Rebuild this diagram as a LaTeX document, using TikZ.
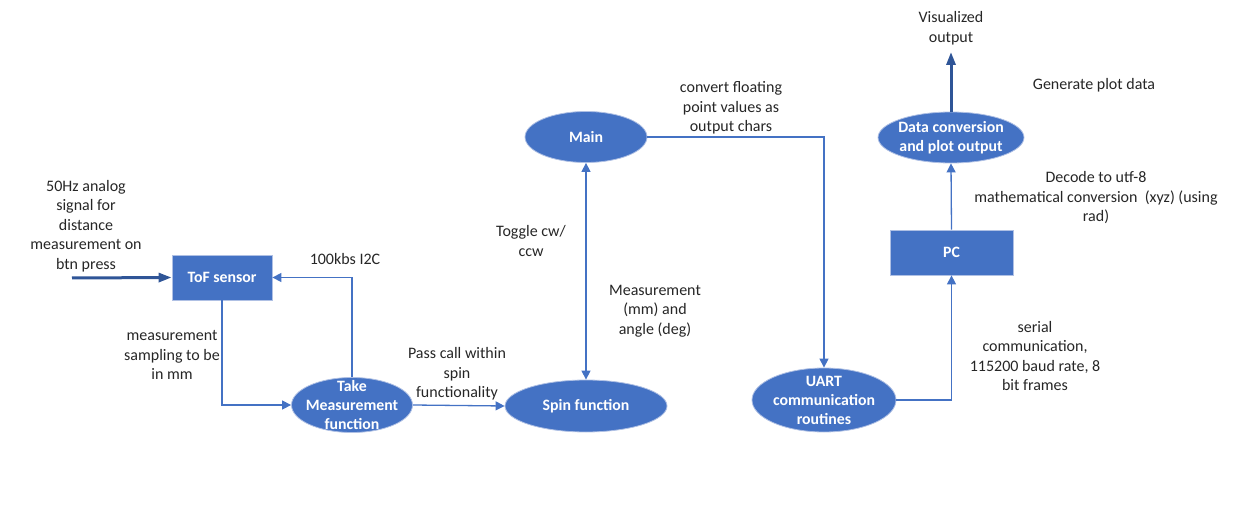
\documentclass[tikz,border=0pt]{standalone}
\usepackage{fontspec}
\setmainfont{Carlito}
\usetikzlibrary{arrows.meta,shapes.geometric}
\definecolor{boxblue}{HTML}{4472C4}
\definecolor{darkblue}{HTML}{2F5597}
\definecolor{rimblue}{HTML}{AFC0E4}

\begin{document}
\begin{tikzpicture}[x=1pt,y=-1pt,
  lbl/.style={align=center,font=\fontsize{16}{19.5}\selectfont,inner sep=0pt,text=black!85},
  intext/.style={align=center,font=\fontsize{15.8}{19}\selectfont\bfseries,text=white,inner sep=0pt},
  block/.style={rectangle,fill=boxblue,draw=rimblue,line width=.8pt,inner sep=0pt,intext},
  oval/.style={ellipse,fill=boxblue,draw=rimblue,line width=.8pt,inner sep=0pt},
  link/.style={boxblue,line width=1.3pt,-{Triangle[width=9pt,length=9pt]}},
  feed/.style={darkblue,line width=3pt,-{Triangle[width=9pt,length=13pt]}}]
\useasboundingbox (0,0) rectangle (1247,510);

% blocks
\node[block,minimum width=100,minimum height=45] (tof) at (222,277.5) {ToF sensor};
\node[block,minimum width=123,minimum height=45] (pc) at (951.5,252.5) {PC};
\node[oval,minimum width=121,minimum height=55,
  label={[intext]center:Take\\Measurement\\function}] (take) at (352,405) {};
\node[oval,minimum width=162,minimum height=52,
  label={[intext]center:Spin function}] (spin) at (586,406) {};
\node[oval,minimum width=122,minimum height=51,
  label={[intext]center:Main}] (main) at (586,137) {};
\node[oval,minimum width=144,minimum height=64,
  label={[intext]center:UART\\communication\\routines}] (uart) at (824,400) {};
\node[oval,minimum width=146,minimum height=51,
  label={[intext]center:Data conversion\\and plot output}] (data) at (951,137.5) {};

% free ends
\coordinate (src) at (72,278);
\coordinate (vis) at (951,52);

% connectors
\draw[feed] (src) -- (tof.west);
\draw[link] (tof.south) |- (take.west);
\draw[link] (take.north) |- (tof.east);
\draw[link] (take.east) -- (spin.west);
\draw[link,{Triangle[width=9pt,length=9pt]}-{Triangle[width=9pt,length=9pt]}] (main.south) -- (spin.north);
\draw[link] (main.east) -| (uart.north);
\draw[link] (uart.east) -| (pc.south);
\draw[link] (pc.north) -- (data.south);
\draw[feed] (data.north) -- (vis);

% labels
\node[lbl] (lsrc) at (86,226) {50Hz analog\\signal for\\distance\\measurement on\\btn press};
\node[lbl] (li2c) at (345,259) {100kbs I2C};
\node[lbl] (lsamp) at (172,355) {measurement\\sampling to be\\in mm};
\node[lbl] (lpass) at (457,374) {Pass call within\\spin\\functionality};
\node[lbl] (ltog) at (531,241) {Toggle cw/\\ccw};
\node[lbl] (lmeas) at (655,311) {Measurement\\(mm) and\\angle (deg)};
\node[lbl] (lconv) at (731,108) {convert floating\\point values as\\output chars};
\node[lbl] (lvis) at (951,28) {Visualized\\output};
\node[lbl] (lgen) at (1094,85) {Generate plot data};
\node[lbl] (ldec) at (1096,198) {Decode to utf-8\\mathematical conversion~~(xyz) (using\\rad)};
\node[lbl] (lser) at (1035,356) {serial\\communication,\\115200 baud rate, 8\\bit frames};
\end{tikzpicture}
\end{document}
